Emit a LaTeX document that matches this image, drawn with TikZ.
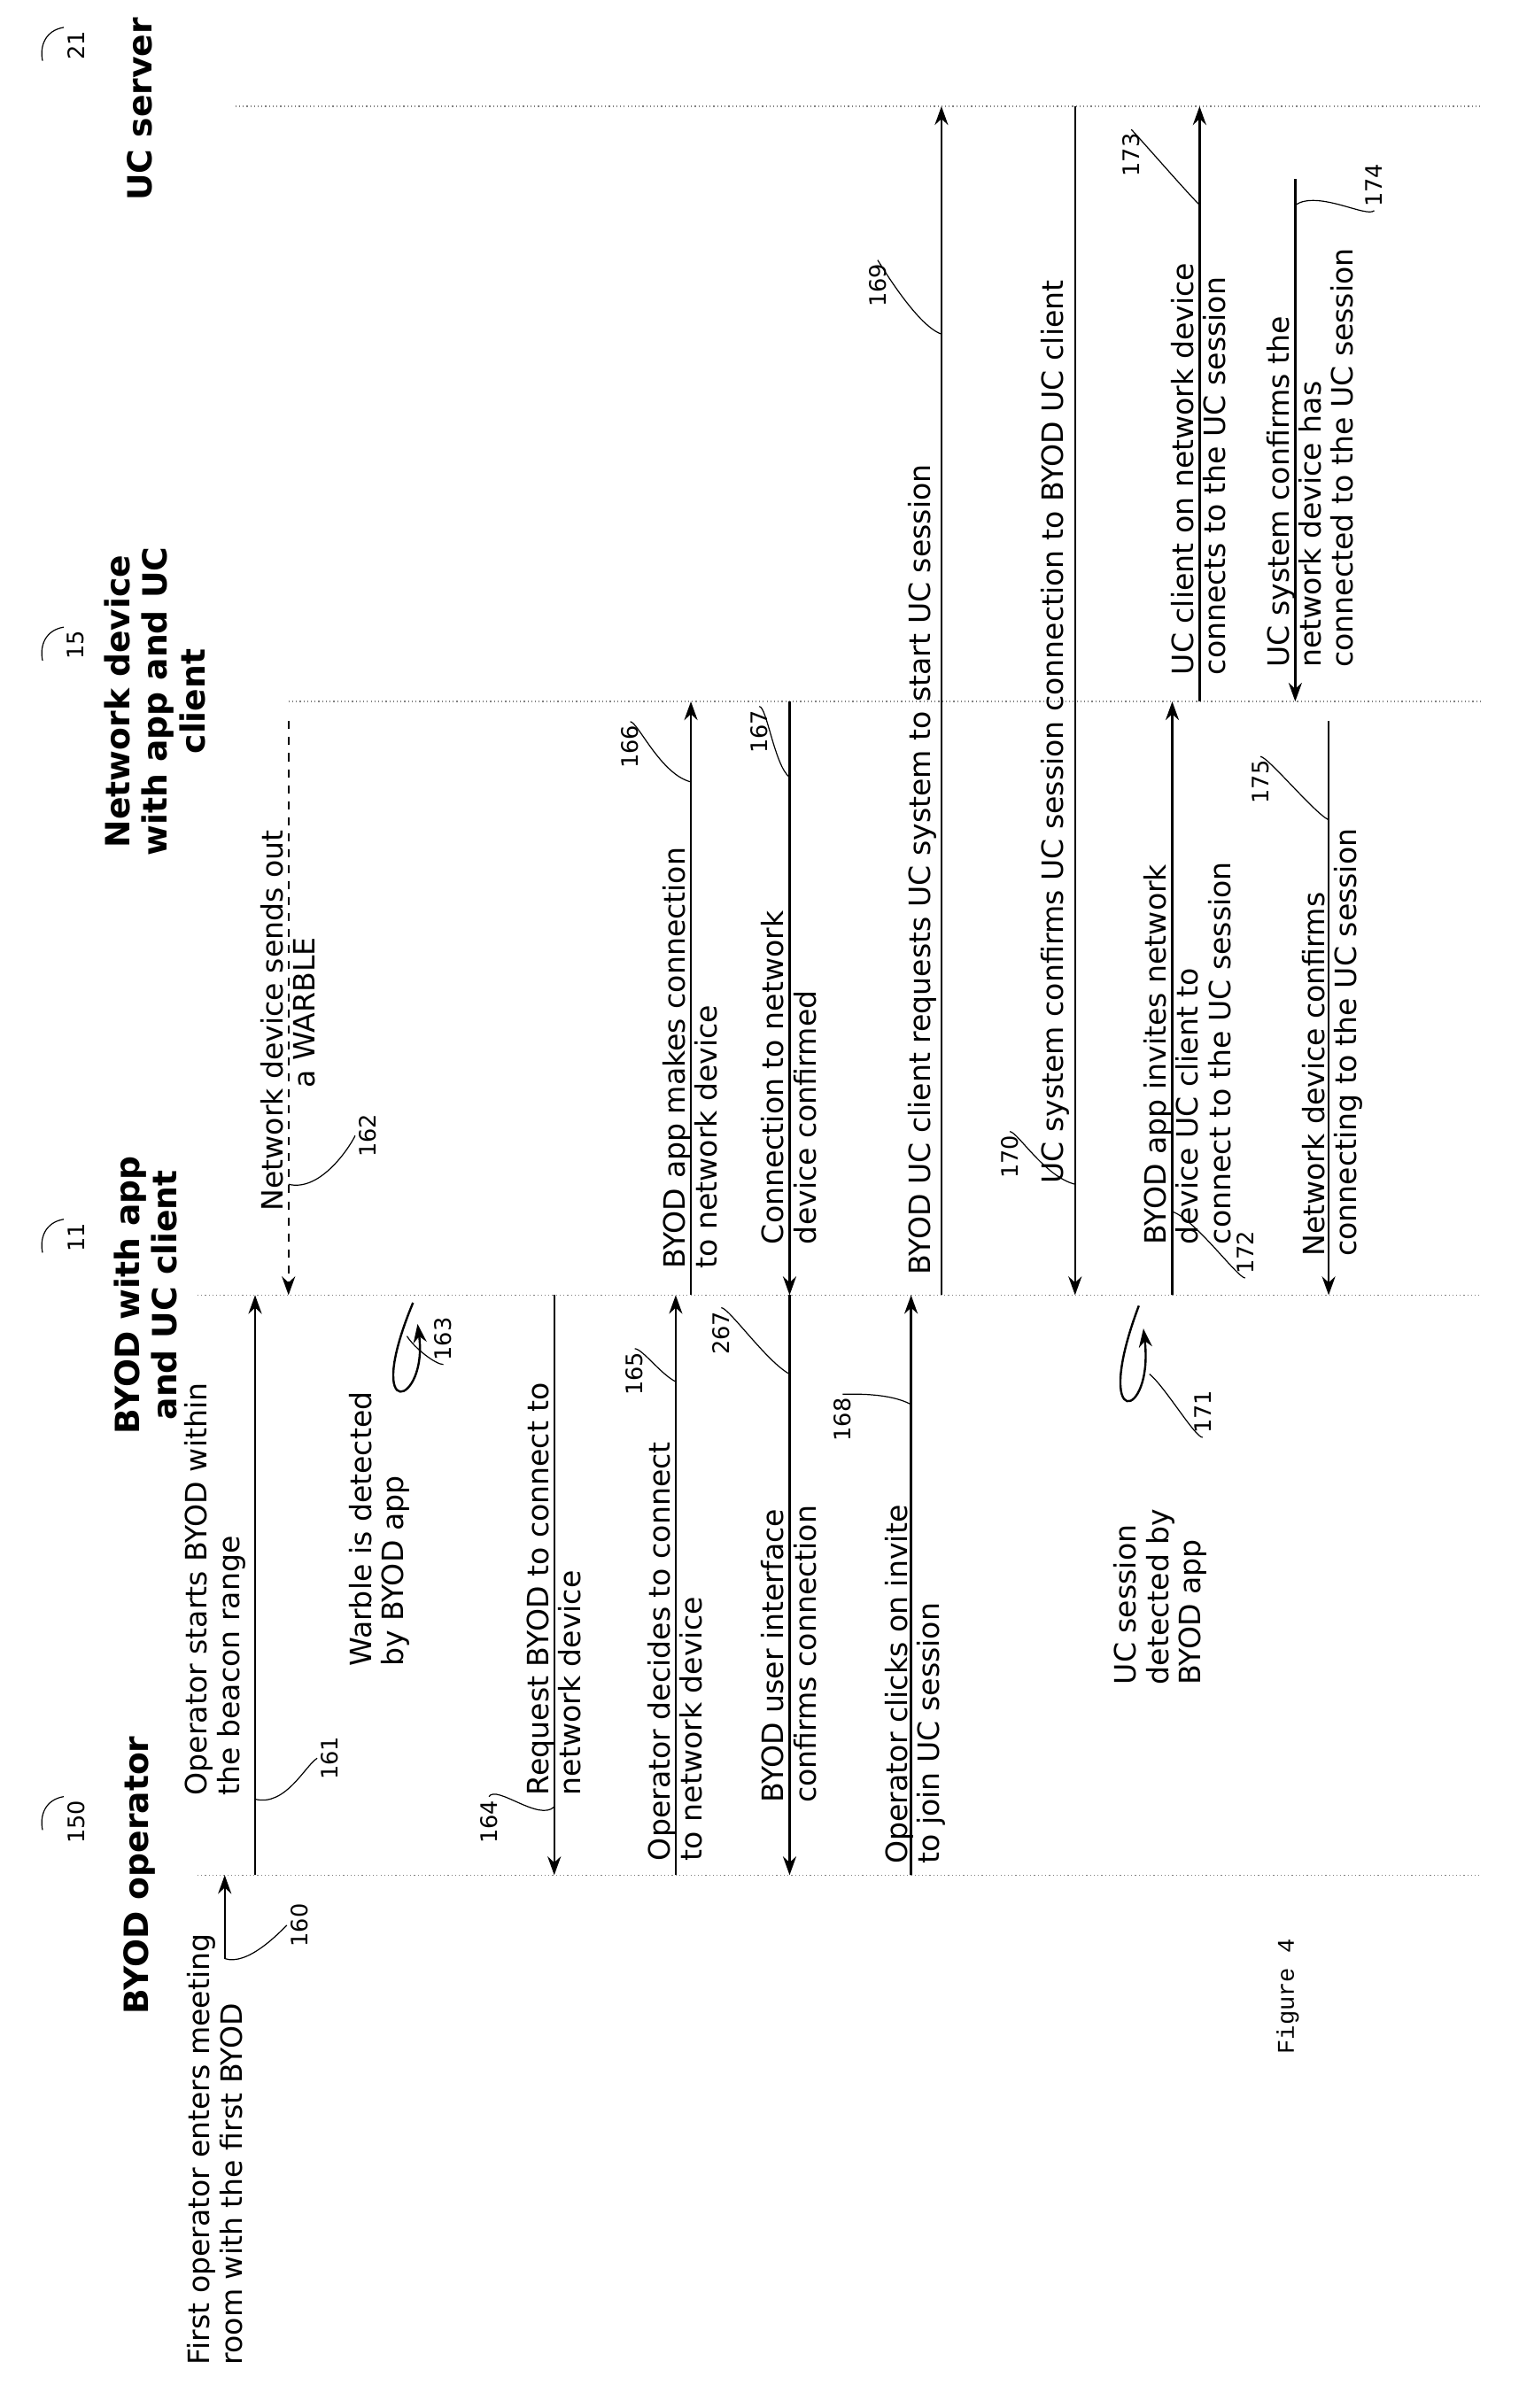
\documentclass[tikz,border=0pt]{standalone}
\usepackage{fontspec}
\setmainfont{DejaVu Sans}
\setmonofont{Liberation Mono}
\usetikzlibrary{arrows.meta}
\begin{document}
\begin{tikzpicture}[x=0.02cm, y=-0.02cm, thick,
  life/.style={densely dotted, thin, gray},
  msg/.style={-{Stealth[length=7pt,width=5pt]}},
  head/.style={rotate=90, font=\fontsize{12.5}{14}\selectfont\bfseries, align=center},
  txt/.style={rotate=90, anchor=south west, align=left, inner sep=1pt, font=\fontsize{11}{12}\selectfont},
  num/.style={rotate=90, font=\fontsize{8.5}{10}\selectfont, inner sep=1pt}]
  \useasboundingbox (0,0) rectangle (1000,1586);

  % lifelines
  \coordinate (s1) at (155,70);   \coordinate (s2) at (975,70);
  \coordinate (n1) at (190,462);  \coordinate (n2) at (975,462);
  \coordinate (b1) at (130,853);  \coordinate (b2) at (975,853);
  \coordinate (o1) at (130,1235); \coordinate (o2) at (975,1235);
  \draw[life] (s1) -- (s2);
  \draw[life] (n1) -- (n2);
  \draw[life] (b1) -- (b2);
  \draw[life] (o1) -- (o2);

  \node[head] (hs) at (92,72) {UC server};
  \node[head] (hn) at (102,462) {Network device\\with app and UC\\client};
  \node[head] (hb) at (96,853) {BYOD with app\\and UC client};
  \node[head] (ho) at (92,1235) {BYOD operator};

  \node[num] (r21) at (50,30) {21};
  \node[num] (r15) at (50,425) {15};
  \node[num] (r11) at (50,815) {11};
  \node[num] (r150) at (50,1200) {150};
  \foreach \r in {r21,r15,r11,r150}
    \draw[thin] (\r.east) ++(-8,0) .. controls +(-12,2) and +(-2,-10) .. ++(-14,22);

  % messages
  \coordinate (a160) at (148,1290); \coordinate (b160) at (148,1235);
  \draw[msg] (a160) -- (b160);
  \node[txt] (t160) at (162,1560) {First operator enters meeting\\room with the first BYOD};
  \coordinate (a161) at (168,1235); \coordinate (b161) at (168,853);
  \draw[msg] (a161) -- (b161);
  \node[txt] (t161) at (164,1185) {Operator starts BYOD within\\the beacon range};
  \coordinate (a162) at (190,475); \coordinate (b162) at (190,853);
  \draw[msg, dashed] (a162) -- (b162);
  \node[txt] (t162) at (210,800) {Network device sends out\\\hspace{4.2em}a WARBLE};
  \coordinate (a163) at (272,858); \coordinate (b163) at (275,872);
  \draw[msg] (a163) .. controls (238,940) and (282,925) .. (b163);
  \node[txt] (t163) at (272,1100) {Warble is detected\\by BYOD app};
  \coordinate (a164) at (365,853); \coordinate (b164) at (365,1235);
  \draw[msg] (a164) -- (b164);
  \node[txt] (t164) at (385,1185) {Request BYOD to connect to\\network device};
  \coordinate (a165) at (445,1235); \coordinate (b165) at (445,853);
  \draw[msg] (a165) -- (b165);
  \node[txt] (t165) at (465,1228) {Operator decides to connect\\to network device};
  \coordinate (a166) at (455,853); \coordinate (b166) at (455,462);
  \draw[msg] (a166) -- (b166);
  \node[txt] (t166) at (475,838) {BYOD app makes connection\\to network device};
  \coordinate (a167) at (520,462); \coordinate (b167) at (520,853);
  \draw[msg] (a167) -- (b167);
  \node[txt] (t167) at (540,822) {Connection to network\\device confirmed};
  \coordinate (a267) at (520,853); \coordinate (b267) at (520,1235);
  \draw[msg] (a267) -- (b267);
  \node[txt] (t267) at (540,1190) {BYOD user interface\\confirms connection};
  \coordinate (a168) at (600,1235); \coordinate (b168) at (600,853);
  \draw[msg] (a168) -- (b168);
  \node[txt] (t168) at (625,1230) {Operator clicks on invite\\to join UC session};
  \coordinate (a169) at (620,853); \coordinate (b169) at (620,70);
  \draw[msg] (a169) -- (b169);
  \node[txt] (t169) at (619,842) {BYOD UC client requests UC system to start UC session};
  \coordinate (a170) at (708,70); \coordinate (b170) at (708,853);
  \draw[msg] (a170) -- (b170);
  \node[txt] (t170) at (707,782) {UC system confirms UC session connection to BYOD UC client};
  \coordinate (a171) at (750,860); \coordinate (b171) at (753,875);
  \draw[msg] (a171) .. controls (718,945) and (760,935) .. (b171);
  \node[txt] (t171) at (797,1112) {UC session\\detected by\\BYOD app};
  \coordinate (a172) at (772,853); \coordinate (b172) at (772,462);
  \draw[msg] (a172) -- (b172);
  \node[txt] (t172) at (813,822) {BYOD app invites network\\device UC client to\\connect to the UC session};
  \coordinate (a173) at (790,462); \coordinate (b173) at (790,70);
  \draw[msg] (a173) -- (b173);
  \node[txt] (t173) at (810,447) {UC client on network device\\connects to the UC session};
  \coordinate (a174) at (853,118); \coordinate (b174) at (853,462);
  \draw[msg] (a174) -- (b174);
  \node[txt] (t174) at (894,442) {UC system confirms the\\network device has\\connected to the UC session};
  \coordinate (a175) at (875,475); \coordinate (b175) at (875,853);
  \draw[msg] (a175) -- (b175);
  \node[txt] (t175) at (900,830) {Network device confirms\\connecting to the UC session};

  % reference numbers
  \node[num] (r160) at (197,1268) {160};
  \node[num] (r161) at (217,1158) {161};
  \node[num] (r162) at (242,748) {162};
  \node[num] (r163) at (292,882) {163};
  \node[num] (r164) at (322,1200) {164};
  \node[num] (r165) at (418,905) {165};
  \node[num] (r166) at (415,492) {166};
  \node[num] (r167) at (500,482) {167};
  \node[num] (r267) at (475,878) {267};
  \node[num] (r168) at (555,935) {168};
  \node[num] (r169) at (578,188) {169};
  \node[num] (r170) at (665,762) {170};
  \node[num] (r171) at (792,930) {171};
  \node[num] (r172) at (820,825) {172};
  \node[num] (r173) at (745,102) {173};
  \node[num] (r174) at (905,122) {174};
  \node[num] (r175) at (830,515) {175};
  \draw[thin] (a160) .. controls +(15,5) and +(-5,5) .. (r160.north);
  \draw[thin] (168,1185) .. controls +(20,5) and +(-8,5) .. (r161.north);
  \draw[thin] (190,780) .. controls +(20,5) and +(-5,10) .. (r162.north);
  \draw[thin] (268,880) .. controls +(5,8) and +(-5,0) .. (r163.west);
  \draw[thin] (365,1190) .. controls +(-10,10) and +(5,-8) .. (r164.east);
  \draw[thin] (445,910) .. controls +(-10,-5) and +(5,0) .. (r165.east);
  \draw[thin] (455,515) .. controls +(-20,-5) and +(5,0) .. (r166.east);
  \draw[thin] (520,512) .. controls +(-10,-8) and +(5,0) .. (r167.east);
  \draw[thin] (520,905) .. controls +(-15,-8) and +(5,0) .. (r267.east);
  \draw[thin] (600,925) .. controls +(-15,-8) and +(5,0) .. (r168.east);
  \draw[thin] (620,220) .. controls +(-15,-5) and +(5,8) .. (r169.east);
  \draw[thin] (708,780) .. controls +(-20,-5) and +(5,0) .. (r170.east);
  \draw[thin] (757,905) .. controls +(10,8) and +(-5,0) .. (r171.west);
  \draw[thin] (772,798) .. controls +(15,5) and +(-5,0) .. (r172.west);
  \draw[thin] (790,135) .. controls +(-10,-10) and +(5,5) .. (r173.east);
  \draw[thin] (853,135) .. controls +(15,-10) and +(-5,5) .. (r174.west);
  \draw[thin] (875,540) .. controls +(-10,-5) and +(5,0) .. (r175.east);

  \node[rotate=90, font=\ttfamily\small] (fig) at (848,1315) {Figure 4};
\end{tikzpicture}
\end{document}
